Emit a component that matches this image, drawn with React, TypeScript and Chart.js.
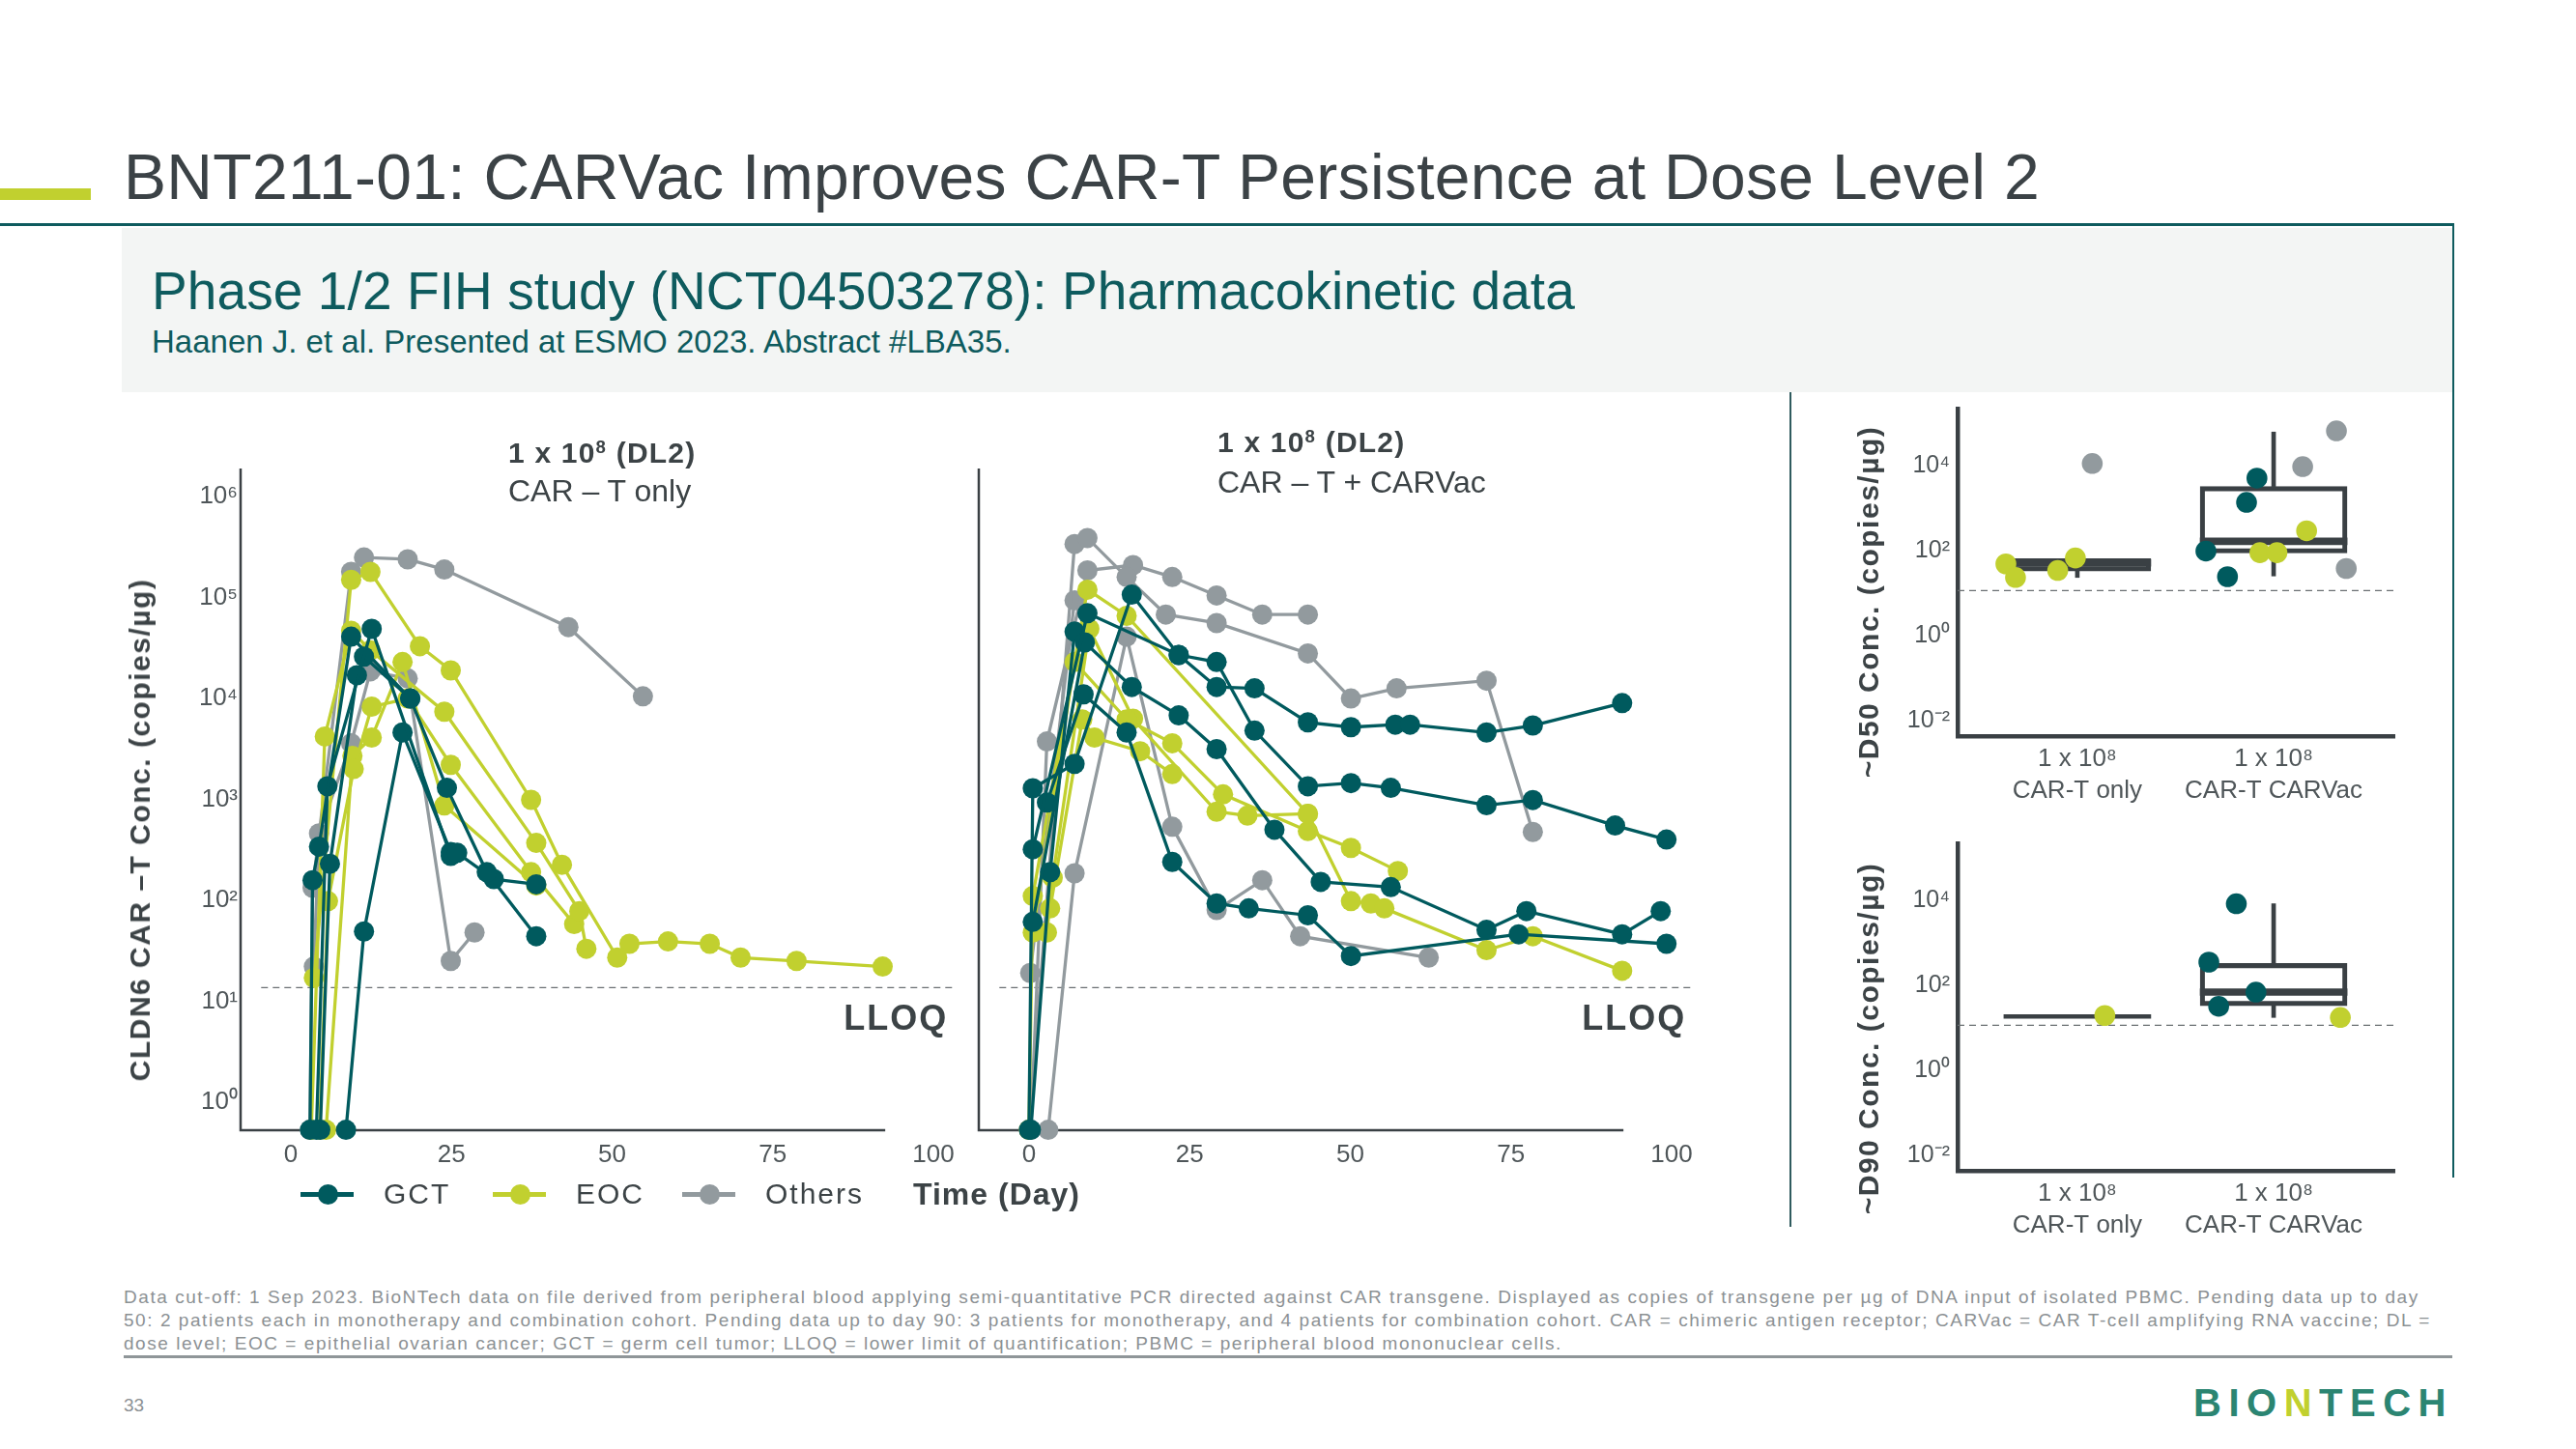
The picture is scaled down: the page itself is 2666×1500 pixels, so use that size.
import React, { useEffect, useRef } from 'react';
import { Chart, registerables } from 'chart.js';

Chart.register(...registerables);

type Pt = [number, number];

// ---------------- data ----------------
const BLQ = 0.53; // values below detection, shown on the axis floor

// Left panel: 1 x 10^8 (DL2), CAR-T only  — [day, copies/µg]
const L_GCT: Pt[][] = [
  [[3.0, BLQ], [3.4, 158], [4.4, 340], [9.4, 41000], [18.6, 10000], [24.3, 1300], [30.5, 190], [38.2, 44]],
  [[4.0, BLQ], [5.7, 1350], [12.6, 49000], [24.9, 275], [25.9, 295], [31.6, 162], [38.2, 144]],
  [[4.6, BLQ], [6.1, 230], [10.3, 17000], [11.4, 26000], [18.6, 10000]],
  [[8.6, BLQ], [11.4, 49], [17.4, 4600], [24.9, 300]],
];
const L_EOC: Pt[][] = [
  [[3.6, 17], [9.4, 150000], [12.4, 180000], [20.1, 33000], [24.9, 19000], [37.4, 990], [42.2, 225], [50.8, 27], [52.7, 37], [58.7, 39], [65.2, 37], [70.0, 27], [78.7, 25], [92.1, 22]],
  [[3.2, BLQ], [5.3, 4200], [9.4, 47000], [12.4, 30000], [23.9, 7400], [38.2, 370], [44.9, 78], [46.0, 33]],
  [[4.5, BLQ], [5.8, 98], [9.8, 2000], [12.6, 8300], [18.2, 10000], [24.9, 2200], [37.4, 190], [44.1, 58]],
  [[5.5, BLQ], [9.6, 2700], [12.6, 4100], [17.4, 23000], [23.9, 870], [38.2, 140]],
];
const L_OTH: Pt[][] = [
  [[3.0, BLQ], [3.4, 133], [9.4, 180000], [11.4, 250000], [18.2, 240000], [23.9, 190000], [43.2, 51000], [54.8, 10500]],
  [[3.6, 22], [4.4, 460], [9.4, 3600], [12.4, 18600], [18.2, 15800], [24.9, 25], [28.6, 48]],
];

// Middle panel: 1 x 10^8 (DL2), CAR-T + CARVac
const M_GCT: Pt[][] = [
  [[0.0, BLQ], [0.6, 1290], [7.1, 2250], [16.0, 107000], [23.3, 27000], [29.2, 13000], [35.1, 12600], [43.4, 5800], [50.1, 5200], [57.0, 5500], [59.3, 5500], [71.2, 4600], [78.4, 5400], [92.3, 9000]],
  [[0.6, 320], [9.1, 70000], [23.3, 27000], [29.2, 23000], [35.1, 4800], [43.4, 1350], [50.1, 1450], [56.3, 1300], [71.2, 875], [78.4, 985], [91.2, 550], [99.2, 400]],
  [[0.6, 61], [8.7, 36000], [16.0, 13000], [23.3, 6800], [29.2, 3150], [38.2, 500], [45.4, 152], [56.3, 135], [71.2, 51], [77.4, 78], [92.3, 46], [98.3, 78]],
  [[2.8, 930], [8.5, 11000], [15.2, 4600], [22.3, 240], [29.2, 93], [34.2, 83], [43.4, 71], [50.1, 28], [76.2, 46], [99.2, 37]],
  [[0.3, BLQ], [3.3, 190], [7.1, 46000]],
];
const M_EOC: Pt[][] = [
  [[0.0, BLQ], [0.6, 110], [9.1, 120000], [15.2, 66000], [43.4, 720], [50.1, 98], [53.2, 93], [55.3, 83], [71.2, 32], [78.4, 44], [92.3, 20]],
  [[0.6, 48], [7.1, 23000], [15.2, 6200], [22.3, 3600], [30.2, 1120], [43.4, 485], [50.1, 330], [57.4, 195]],
  [[2.8, 48], [3.7, 167], [9.4, 49000], [16.2, 6300], [29.2, 755], [34.0, 690], [43.4, 720]],
  [[3.3, 83], [8.3, 6200], [10.2, 4100], [17.3, 3000], [22.3, 1780]],
];
const M_OTH: Pt[][] = [
  [[0.0, BLQ], [7.1, 340000], [9.1, 390000], [15.2, 160000], [21.3, 68000], [29.2, 56000], [43.4, 28000], [50.1, 10000], [57.2, 12600], [71.2, 15000], [78.4, 475]],
  [[0.3, BLQ], [2.8, 3750], [9.1, 186000], [16.2, 210000], [22.3, 160000], [29.2, 105000], [36.3, 68000], [43.4, 68000]],
  [[3.0, BLQ], [7.1, 185], [15.2, 41000], [22.3, 535], [29.2, 80], [36.3, 158], [42.2, 44], [62.2, 27]],
  [[0.2, 19], [7.1, 94000]],
];

const X_TICKS = [0, 25, 50, 75, 100];
const Y_TICKS_TIME = [1, 10, 100, 1000, 10000, 100000, 1000000];
const Y_TICK_LABELS_TIME = ['10⁰', '10¹', '10²', '10³', '10⁴', '10⁵', '10⁶'];
const LLOQ_TIME = 13.6;

// Right panels: ~D50 / ~D90 concentrations
const CATEGORY_POS = [1, 2];
const CATEGORY_LABELS = [['1 x 10⁸', 'CAR-T only'], ['1 x 10⁸', 'CAR-T CARVac']];
const Y_TICKS_BOX = [0.01, 1, 100, 10000];
const Y_TICK_LABELS_BOX = ['10⁻²', '10⁰', '10²', '10⁴'];
const LLOQ_BOX = 11.8;

const D50_Q1 = [34, 90];
const D50_MEDIAN = [53, 170];
const D50_Q3 = [66, 3300];
const D50_LOW = [24, 26];
const D50_HIGH = [66, 63000];
const D50_GCT_X = [1.655, 1.765, 1.862, 1.915];
const D50_GCT_Y = [100, 25, 1400, 5200];
const D50_EOC_X = [0.636, 0.685, 0.9, 0.99, 1.93, 2.017, 2.168];
const D50_EOC_Y = [50, 24, 35, 69, 92, 92, 300];
const D50_OTH_X = [1.076, 2.148, 2.32, 2.37];
const D50_OTH_Y = [11500, 9700, 67000, 39];

const D90_Q1 = [19, 34];
const D90_MEDIAN = [19, 71];
const D90_Q3 = [19, 335];
const D90_LOW = [19, 18];
const D90_HIGH = [19, 8500];
const D90_GCT_X = [1.67, 1.72, 1.81, 1.91];
const D90_GCT_Y = [360, 33, 8500, 71];
const D90_EOC_X = [1.14, 2.34];
const D90_EOC_Y = [20, 18];

// ---------------- styles ----------------
const FONT = '"Liberation Sans", Arial, Helvetica, sans-serif';
const TEAL = '#005a5e';
const LIME = '#c1d02f';
const GRAY = '#929a9e';
const AXIS = '#3a4044';
const TEXT = '#3c4346';
const TICK = '#4f5659';
const BRAND_TEAL = '#0e5b5e';

const timeDecor = {
  id: 'timeDecor',
  beforeDatasetsDraw(chart: any, _args: any, opts: any) {
    const { ctx, chartArea, scales } = chart;
    const x = scales.x;
    const y = scales.y;
    ctx.save();
    ctx.strokeStyle = AXIS;
    ctx.lineWidth = 2.5;
    ctx.beginPath();
    ctx.moveTo(chartArea.left, chartArea.top);
    ctx.lineTo(chartArea.left, chartArea.bottom);
    ctx.lineTo(x.getPixelForValue(opts.axisEnd), chartArea.bottom);
    ctx.stroke();
    const ly = y.getPixelForValue(opts.lloq);
    ctx.setLineDash([7, 5]);
    ctx.lineWidth = 1.3;
    ctx.strokeStyle = '#6a6f72';
    ctx.beginPath();
    ctx.moveTo(x.getPixelForValue(opts.lloqFrom), ly);
    ctx.lineTo(x.getPixelForValue(opts.lloqTo), ly);
    ctx.stroke();
    ctx.setLineDash([]);
    ctx.font = 'bold 36px ' + FONT;
    ctx.fillStyle = TEXT;
    ctx.textAlign = 'right';
    ctx.textBaseline = 'middle';
    try { ctx.letterSpacing = '2px'; } catch (e) { /* ignore */ }
    ctx.fillText('LLOQ', x.getPixelForValue(opts.labelDay), y.getPixelForValue(opts.labelValue));
    ctx.restore();
  },
};

const boxDecor = {
  id: 'boxDecor',
  beforeDatasetsDraw(chart: any, _args: any, opts: any) {
    const { ctx, chartArea, scales } = chart;
    const ly = scales.y.getPixelForValue(opts.lloq);
    ctx.save();
    ctx.setLineDash([7, 5]);
    ctx.lineWidth = 1.3;
    ctx.strokeStyle = '#6a6f72';
    ctx.beginPath();
    ctx.moveTo(chartArea.left, ly);
    ctx.lineTo(chartArea.right, ly);
    ctx.stroke();
    ctx.restore();
  },
};

type Group = { series: Pt[][]; color: string; order: number };

function TimeChart(props: {
  left: number; top: number; width: number; height: number;
  yWidth: number; padRight: number; showYLabels: boolean; groups: Group[];
}) {
  const ref = useRef<HTMLCanvasElement>(null);
  useEffect(() => {
    const datasets: any[] = [];
    props.groups.forEach((g) =>
      g.series.forEach((s) =>
        datasets.push({
          type: 'line',
          data: s.map(([x, y]) => ({ x, y })),
          borderColor: g.color,
          backgroundColor: g.color,
          pointBackgroundColor: g.color,
          pointBorderWidth: 0,
          pointRadius: 10.5,
          pointHoverRadius: 10.5,
          borderWidth: 3.3,
          tension: 0,
          clip: false,
          order: g.order,
        })
      )
    );
    const chart = new Chart(ref.current as HTMLCanvasElement, {
      type: 'scatter',
      data: { datasets },
      plugins: [timeDecor],
      options: {
        animation: false,
        responsive: false,
        maintainAspectRatio: false,
        events: [],
        layout: { padding: { left: 0, top: 55, right: props.padRight, bottom: 0 } },
        plugins: {
          legend: { display: false },
          tooltip: { enabled: false },
          timeDecor: { axisEnd: 92.5, lloq: LLOQ_TIME, lloqFrom: -4.6, lloqTo: 103, labelDay: 102.3, labelValue: 6.5 },
        } as any,
        scales: {
          x: {
            type: 'linear',
            offset: false,
            min: -7.8,
            max: 103,
            grid: { display: false, drawTicks: false, offset: false },
            border: { display: false },
            ticks: { font: { family: FONT, size: 26 }, color: TICK, padding: 10, maxRotation: 0 },
            afterBuildTicks: (s: any) => { s.ticks = X_TICKS.map((v) => ({ value: v })); },
            afterFit: (s: any) => { s.height = 60; },
          },
          y: {
            type: 'logarithmic',
            min: Math.pow(10, -0.28),
            max: Math.pow(10, 6.28),
            grid: { display: false, drawTicks: false },
            border: { display: false },
            ticks: {
              display: props.showYLabels,
              font: { family: FONT, size: 26 },
              color: TICK,
              padding: 3,
              callback: (v: any) => {
                const i = Y_TICKS_TIME.indexOf(Number(v));
                return i >= 0 ? Y_TICK_LABELS_TIME[i] : '';
              },
            },
            afterBuildTicks: (s: any) => { s.ticks = Y_TICKS_TIME.map((v) => ({ value: v })); },
            afterFit: (s: any) => { s.width = props.yWidth; },
          },
        },
      } as any,
    });
    return () => chart.destroy();
  }, []);
  return (
    <canvas
      ref={ref}
      width={props.width}
      height={props.height}
      style={{ position: 'absolute', left: props.left, top: props.top, width: props.width, height: props.height }}
    />
  );
}

function BoxChart(props: {
  left: number; top: number; padTop: number;
  q1: number[]; med: number[]; q3: number[]; lo: number[]; hi: number[];
  points: { xs: number[]; ys: number[]; color: string }[];
}) {
  const ref = useRef<HTMLCanvasElement>(null);
  const W = 600;
  const H = 445;
  useEffect(() => {
    const datasets: any[] = [];
    props.points.forEach((p) =>
      datasets.push({
        type: 'scatter',
        data: p.xs.map((x, i) => ({ x, y: p.ys[i] })),
        backgroundColor: p.color,
        pointBackgroundColor: p.color,
        pointBorderWidth: 0,
        pointRadius: 10.8,
        pointHoverRadius: 10.8,
        clip: false,
        order: 0,
      })
    );
    const flat = (i: number) => props.q3[i] <= props.q1[i];
    datasets.push({
      type: 'bar',
      data: CATEGORY_POS.map((x, i) => ({ x, y: [props.med[i] / (flat(i) ? 1.11 : 1.2), props.med[i] * (flat(i) ? 1.11 : 1.2)] })),
      backgroundColor: AXIS,
      borderWidth: 0,
      barThickness: 152,
      grouped: false,
      order: 1,
    });
    datasets.push({
      type: 'bar',
      data: CATEGORY_POS.map((x, i) => ({ x, y: [props.q1[i], props.q3[i]] })).filter((_, i) => !flat(i)),
      backgroundColor: 'rgba(255,255,255,0)',
      borderColor: AXIS,
      borderWidth: 4.5,
      borderSkipped: false,
      barThickness: 152,
      grouped: false,
      order: 2,
    });
    datasets.push({
      type: 'bar',
      data: CATEGORY_POS.map((x, i) => ({ x, y: [props.lo[i], props.q1[i]] })).filter((d) => d.y[0] < d.y[1]),
      backgroundColor: AXIS,
      borderWidth: 0,
      barThickness: 4,
      grouped: false,
      order: 3,
    });
    datasets.push({
      type: 'bar',
      data: CATEGORY_POS.map((x, i) => ({ x, y: [props.q3[i], props.hi[i]] })).filter((d) => d.y[0] < d.y[1]),
      backgroundColor: AXIS,
      borderWidth: 0,
      barThickness: 4,
      grouped: false,
      order: 3,
    });
    const chart = new Chart(ref.current as HTMLCanvasElement, {
      type: 'scatter',
      data: { datasets },
      plugins: [boxDecor],
      options: {
        animation: false,
        responsive: false,
        maintainAspectRatio: false,
        events: [],
        layout: { padding: { left: 0, top: props.padTop, right: 22, bottom: 0 } },
        plugins: {
          legend: { display: false },
          tooltip: { enabled: false },
          boxDecor: { lloq: LLOQ_BOX },
        } as any,
        scales: {
          x: {
            type: 'linear',
            offset: false,
            min: 0.39,
            max: 2.615,
            grid: { display: false, drawTicks: false, offset: false },
            border: { display: true, color: AXIS, width: 4.5 },
            ticks: {
              font: { family: FONT, size: 26, lineHeight: 1.25 },
              color: TICK,
              padding: 8,
              maxRotation: 0,
              callback: (v: any) => {
                const i = CATEGORY_POS.indexOf(Number(v));
                return i >= 0 ? CATEGORY_LABELS[i] : '';
              },
            },
            afterBuildTicks: (s: any) => { s.ticks = CATEGORY_POS.map((v) => ({ value: v })); },
            afterFit: (s: any) => { s.height = 83; },
          },
          y: {
            type: 'logarithmic',
            min: Math.pow(10, -2.35),
            max: Math.pow(10, 5.35),
            grid: { display: false, drawTicks: false },
            border: { display: true, color: AXIS, width: 4.5 },
            ticks: {
              font: { family: FONT, size: 25 },
              color: TICK,
              padding: 8,
              callback: (v: any) => {
                const i = Y_TICKS_BOX.indexOf(Number(v));
                return i >= 0 ? Y_TICK_LABELS_BOX[i] : '';
              },
            },
            afterBuildTicks: (s: any) => { s.ticks = Y_TICKS_BOX.map((v) => ({ value: v })); },
            afterFit: (s: any) => { s.width = 126; },
          },
        },
      } as any,
    });
    return () => chart.destroy();
  }, []);
  return (
    <canvas
      ref={ref}
      width={W}
      height={H}
      style={{ position: 'absolute', left: props.left, top: props.top, width: W, height: H }}
    />
  );
}

const abs = (left: number, top: number, extra: React.CSSProperties = {}): React.CSSProperties => ({
  position: 'absolute', left, top, whiteSpace: 'nowrap', ...extra,
});

function Rotated(props: { cx: number; cy: number; size: number; spacing?: number; children: React.ReactNode }) {
  return (
    <div
      style={{
        position: 'absolute', left: props.cx, top: props.cy, whiteSpace: 'nowrap',
        fontSize: props.size, lineHeight: 1, fontWeight: 'bold', color: TEXT,
        letterSpacing: props.spacing || 0,
        transform: 'translate(-50%, -50%) rotate(-90deg)',
      }}
    >
      {props.children}
    </div>
  );
}

function LegendItem(props: { x: number; color: string; label: string }) {
  return (
    <>
      <div style={abs(props.x, 1233.5, { width: 55, height: 5, background: props.color })} />
      <div style={abs(props.x + 18, 1226, { width: 21, height: 21, borderRadius: 11, background: props.color })} />
      <div style={abs(props.x + 86, 1221, { fontSize: 30, lineHeight: '30px', color: TEXT, letterSpacing: 2 })}>{props.label}</div>
    </>
  );
}

const sup: React.CSSProperties = { fontSize: '0.62em', verticalAlign: '0.55em', lineHeight: 0 };

export default function App() {
  return (
    <div style={{ position: 'absolute', left: 0, top: 0, width: 2666, height: 1500, background: '#ffffff', overflow: 'hidden', fontFamily: FONT }}>
      {/* header */}
      <div style={abs(0, 195, { width: 94, height: 12, background: LIME })} />
      <div style={abs(128, 150, { fontSize: 66, lineHeight: '66px', color: '#3b4246', letterSpacing: 0.3 })}>
        BNT211-01: CARVac Improves CAR-T Persistence at Dose Level 2
      </div>
      <div style={abs(0, 231, { width: 2540, height: 3, background: BRAND_TEAL })} />
      <div style={abs(2538, 231, { width: 2, height: 988, background: BRAND_TEAL })} />
      <div style={abs(126, 236, { width: 2412, height: 170, background: '#f3f5f4' })} />
      <div style={abs(157, 274, { fontSize: 55, lineHeight: '55px', color: BRAND_TEAL, letterSpacing: 0.1 })}>
        Phase 1/2 FIH study (NCT04503278): Pharmacokinetic data
      </div>
      <div style={abs(157, 337, { fontSize: 33, lineHeight: '33px', color: BRAND_TEAL })}>
        Haanen J. et al. Presented at ESMO 2023. Abstract #LBA35.
      </div>
      <div style={abs(1852, 406, { width: 2, height: 864, background: '#2f5b5e' })} />

      {/* left + middle charts */}
      <TimeChart
        left={120} top={430} width={880} height={800} yWidth={129} padRight={14} showYLabels={true}
        groups={[{ series: L_GCT, color: TEAL, order: 1 }, { series: L_EOC, color: LIME, order: 2 }, { series: L_OTH, color: GRAY, order: 3 }]}
      />
      <TimeChart
        left={1000} top={430} width={780} height={800} yWidth={13} padRight={30} showYLabels={false}
        groups={[{ series: M_GCT, color: TEAL, order: 1 }, { series: M_EOC, color: LIME, order: 2 }, { series: M_OTH, color: GRAY, order: 3 }]}
      />
      <div style={abs(526, 454, { fontSize: 30, lineHeight: '30px', fontWeight: 'bold', color: TEXT, letterSpacing: 1.2 })}>
        1 x 10<span style={sup}>8</span> (DL2)
      </div>
      <div style={abs(526, 492, { fontSize: 32, lineHeight: '32px', color: TEXT })}>CAR – T only</div>
      <div style={abs(1260, 443, { fontSize: 30, lineHeight: '30px', fontWeight: 'bold', color: TEXT, letterSpacing: 1.2 })}>
        1 x 10<span style={sup}>8</span> (DL2)
      </div>
      <div style={abs(1260, 483, { fontSize: 32, lineHeight: '32px', color: TEXT })}>CAR – T + CARVac</div>
      <Rotated cx={145} cy={859} size={30} spacing={1.5}>CLDN6 CAR –T Conc. (copies/µg)</Rotated>

      <LegendItem x={311} color={TEAL} label="GCT" />
      <LegendItem x={510} color={LIME} label="EOC" />
      <LegendItem x={706} color={GRAY} label="Others" />
      <div style={abs(945, 1220, { fontSize: 32, lineHeight: '32px', fontWeight: 'bold', color: TEXT, letterSpacing: 1 })}>Time (Day)</div>

      {/* right charts */}
      <BoxChart
        left={1900} top={400} padTop={17}
        q1={D50_Q1} med={D50_MEDIAN} q3={D50_Q3} lo={D50_LOW} hi={D50_HIGH}
        points={[
          { xs: D50_GCT_X, ys: D50_GCT_Y, color: TEAL },
          { xs: D50_EOC_X, ys: D50_EOC_Y, color: LIME },
          { xs: D50_OTH_X, ys: D50_OTH_Y, color: GRAY },
        ]}
      />
      <BoxChart
        left={1900} top={850} padTop={15}
        q1={D90_Q1} med={D90_MEDIAN} q3={D90_Q3} lo={D90_LOW} hi={D90_HIGH}
        points={[
          { xs: D90_GCT_X, ys: D90_GCT_Y, color: TEAL },
          { xs: D90_EOC_X, ys: D90_EOC_Y, color: LIME },
        ]}
      />
      <Rotated cx={1934} cy={623} size={30} spacing={1.5}>~D50 Conc. (copies/µg)</Rotated>
      <Rotated cx={1934} cy={1075} size={30} spacing={1.5}>~D90 Conc. (copies/µg)</Rotated>

      {/* footnote */}
      <div style={abs(128, 1331, { fontSize: 19, lineHeight: '24px', color: '#8c9194', letterSpacing: 1.55 })}>
        Data cut-off: 1 Sep 2023. BioNTech data on file derived from peripheral blood applying semi-quantitative PCR directed against CAR transgene. Displayed as copies of transgene per µg of DNA input of isolated PBMC. Pending data up to day
        <br />
        50: 2 patients each in monotherapy and combination cohort. Pending data up to day 90: 3 patients for monotherapy, and 4 patients for combination cohort. CAR = chimeric antigen receptor; CARVac = CAR T-cell amplifying RNA vaccine; DL =
        <br />
        dose level; EOC = epithelial ovarian cancer; GCT = germ cell tumor; LLOQ = lower limit of quantification; PBMC = peripheral blood mononuclear cells.
      </div>
      <div style={abs(128, 1403, { width: 2410, height: 3, background: '#8f9699' })} />
      <div style={abs(128, 1445, { fontSize: 19, lineHeight: '19px', color: '#8c9194' })}>33</div>
      <div style={abs(2270, 1432, { fontSize: 40, lineHeight: '40px', fontWeight: 'bold', color: '#2b8572', letterSpacing: 7.5 })}>
        BIO<span style={{ color: LIME }}>N</span>TECH
      </div>
    </div>
  );
}
